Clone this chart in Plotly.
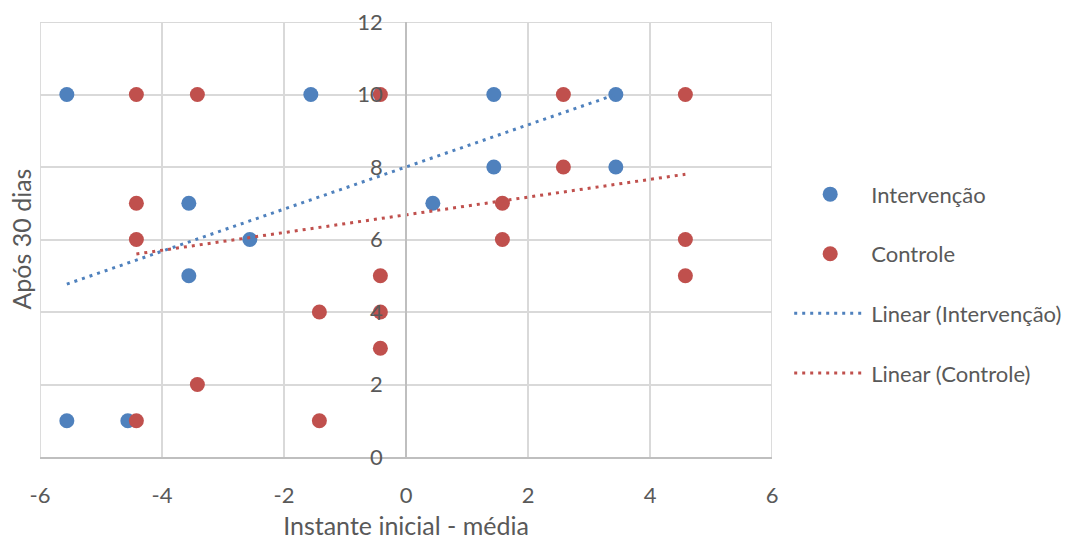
import plotly.graph_objects as go

# Scatter data (centered initial score vs. score after 30 days)
int_x = [-5.56, -5.56, -4.56, -3.56, -3.56, -2.56, -1.56, 0.44, 1.44, 1.44, 3.44, 3.44]
int_y = [10, 1, 1, 7, 5, 6, 10, 7, 10, 8, 10, 8]

ctl_x = [-4.42, -3.42, -0.42, 2.58, 4.58, 2.58, -4.42, -4.42, 1.58, 1.58,
         4.58, 4.58, -0.42, -0.42, -0.42, -1.42, -3.42, -4.42, -1.42]
ctl_y = [10, 10, 10, 10, 10, 8, 7, 6, 7, 6, 6, 5, 5, 4, 3, 4, 2, 1, 1]

# Linear trend lines (end points)
trend_int_x = [-5.56, 3.44]
trend_int_y = [4.77, 10.0]
trend_ctl_x = [-4.42, 4.58]
trend_ctl_y = [5.60, 7.80]

x_ticks = [-6, -4, -2, 0, 2, 4, 6]
y_ticks = [0, 2, 4, 6, 8, 10, 12]

BLUE = "#4F81BD"
RED = "#C0504D"
TEXT = "#595959"
GRID = "#D9D9D9"
AXIS = "#BFBFBF"
FONT = "Lato"
TICK_FS = 22
TITLE_FS = 25
LEG_FS = 22
GW = 1.8

fig = go.Figure()
fig.add_trace(go.Scatter(x=int_x, y=int_y, mode="markers", name="Intervenção",
                         legendgroup="a",
                         marker=dict(size=15, color=BLUE)))
fig.add_trace(go.Scatter(x=ctl_x, y=ctl_y, mode="markers", name="Controle",
                         legendgroup="b",
                         marker=dict(size=15, color=RED)))
fig.add_trace(go.Scatter(x=trend_int_x, y=trend_int_y, mode="lines",
                         name="Linear (Intervenção)", legendgroup="c",
                         line=dict(color=BLUE, width=3, dash="3px,5px")))
fig.add_trace(go.Scatter(x=trend_ctl_x, y=trend_ctl_y, mode="lines",
                         name="Linear (Controle)", legendgroup="d",
                         line=dict(color=RED, width=3, dash="3px,5px")))

fig.update_layout(
    width=1072, height=540,
    margin=dict(l=40, r=300, t=22, b=83, autoexpand=False),
    paper_bgcolor="white", plot_bgcolor="white",
    font=dict(family=FONT, size=TICK_FS, color=TEXT),
    showlegend=True,
    legend=dict(x=1.0235, y=0.398, xanchor="left", yanchor="middle",
                tracegroupgap=28, itemwidth=72,
                font=dict(family=FONT, size=LEG_FS, color=TEXT)),
    xaxis=dict(range=[-6, 6], tickvals=x_ticks, ticktext=[str(v) for v in x_ticks],
               showgrid=True, gridcolor=GRID, gridwidth=GW,
               zeroline=False, showline=True, linecolor=AXIS, linewidth=GW,
               ticks="outside", ticklen=18, tickcolor="rgba(0,0,0,0)",
               tickfont=dict(family=FONT, size=TICK_FS, color=TEXT),
               title=dict(text="Instante inicial - média", standoff=10,
                          font=dict(family=FONT, size=TITLE_FS, color=TEXT))),
    yaxis=dict(range=[0, 12], tickvals=y_ticks, ticktext=[str(v) for v in y_ticks],
               anchor="free", position=0.5,
               showgrid=True, gridcolor=GRID, gridwidth=GW,
               zeroline=False, showline=True, linecolor=AXIS, linewidth=GW,
               ticks="outside", ticklen=18, tickcolor="rgba(0,0,0,0)",
               tickfont=dict(family=FONT, size=TICK_FS, color=TEXT)),
    annotations=[dict(text="Após 30 dias", xref="paper", yref="paper",
                      x=-0.0273, y=0.5, xanchor="center", yanchor="middle",
                      textangle=-90, showarrow=False,
                      font=dict(family=FONT, size=TITLE_FS, color=TEXT))],
)

# frame: top edge and left/right edges of the plot area
fig.add_shape(type="line", xref="paper", yref="y", x0=0, x1=1,
              y0=y_ticks[-1], y1=y_ticks[-1],
              line=dict(color=GRID, width=GW), layer="below")
for xv in (x_ticks[0], x_ticks[-1]):
    fig.add_shape(type="line", xref="x", yref="paper", x0=xv, x1=xv, y0=0, y1=1,
                  line=dict(color=GRID, width=GW), layer="below")

fig.write_html("out.html")
